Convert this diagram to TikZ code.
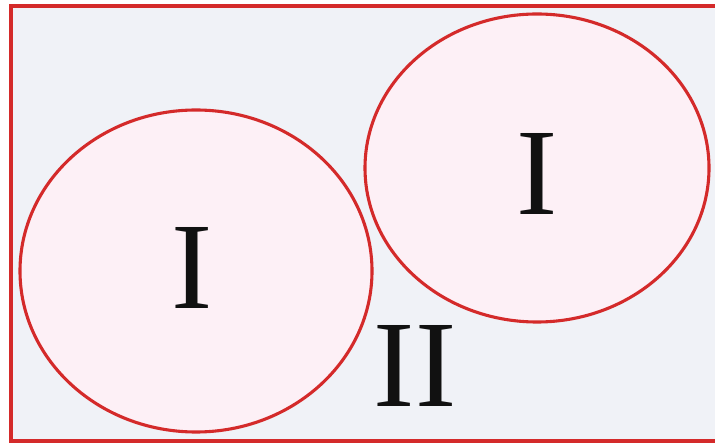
\documentclass[tikz,border=0pt]{standalone}
\usepackage{fontspec}
\setmainfont{Liberation Serif}
\usepackage{tikz}
\usepackage{xcolor}
\definecolor{edge}{HTML}{D42A2A}
\definecolor{ground}{HTML}{F0F2F7}
\definecolor{blob}{HTML}{FDF0F6}
\definecolor{ink}{HTML}{111111}

\begin{document}
\begin{tikzpicture}[x=0.025cm,y=-0.025cm,
  region/.style={draw=edge,fill=blob,line width=2.2pt},
  lab/.style={text=ink,inner sep=0pt,font=\fontsize{88}{88}\selectfont}]

  % frame runs off the right edge
  \useasboundingbox (0,0) rectangle (715,444);
  \clip (0,0) rectangle (715,444);
  \draw[draw=edge,fill=ground,line width=2.6pt] (11,6) rectangle (730,441);

  % the two regions of type I
  \draw[region] (196,271) ellipse [x radius=176,y radius=161];
  \draw[region] (537,168) ellipse [x radius=172,y radius=154];

  \node[lab] (left)  at (192,268) {I};
  \node[lab] (right) at (537,174) {I};
  \node[lab] (outer) at (415,366) {II};
\end{tikzpicture}
\end{document}
